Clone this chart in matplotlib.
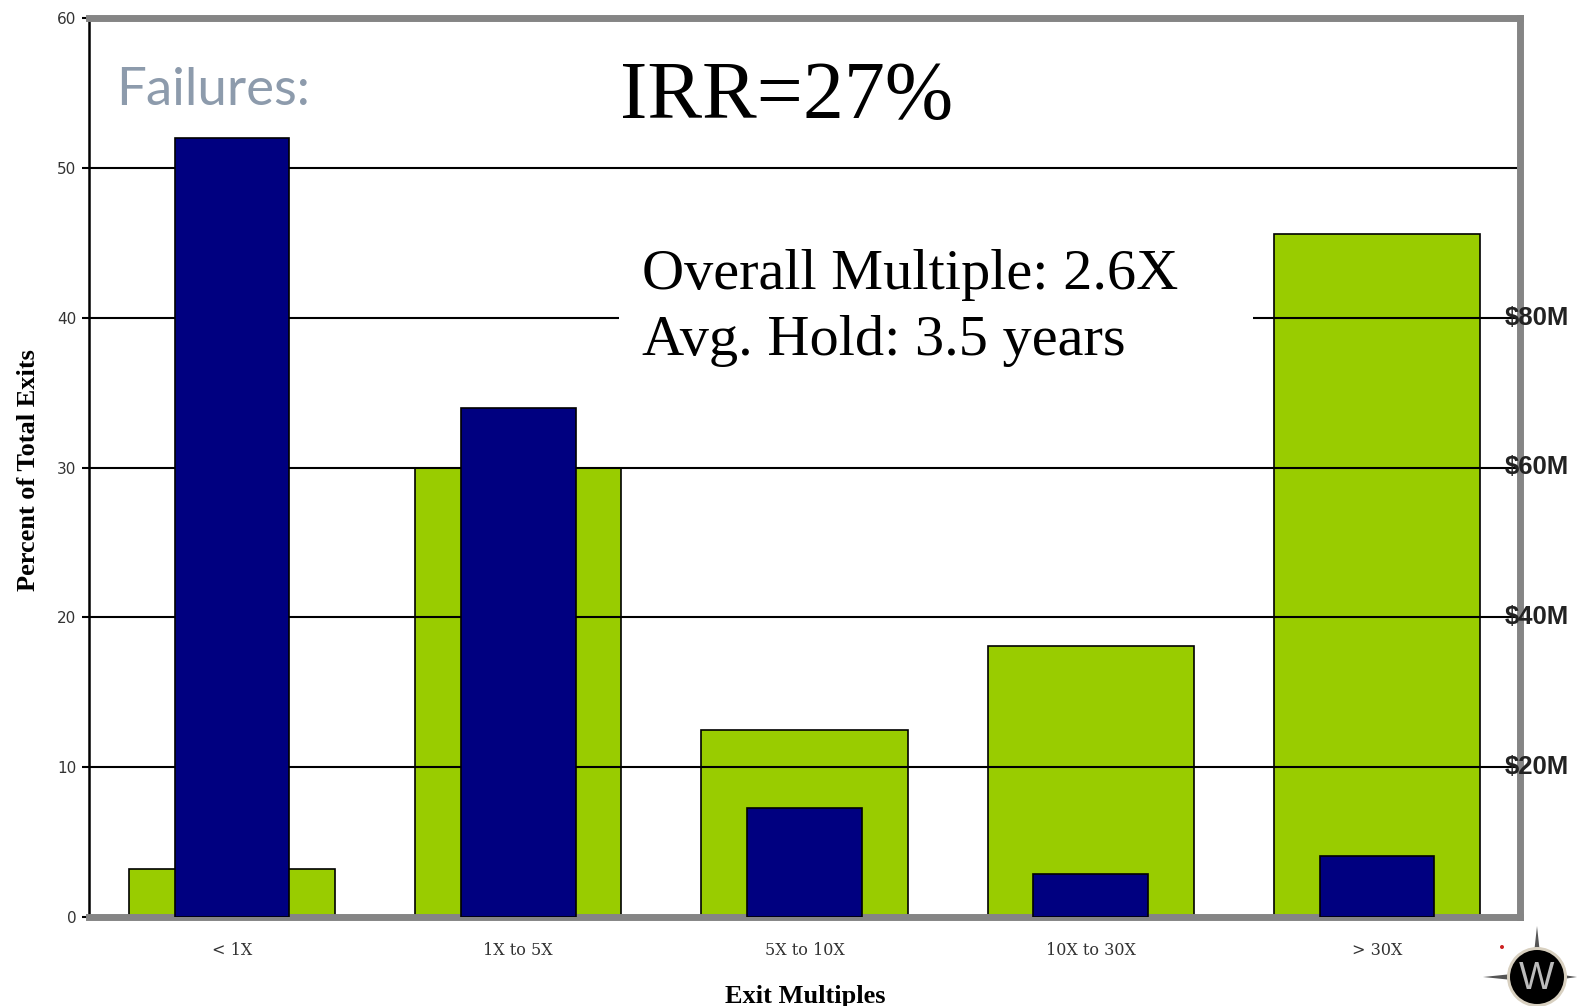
import matplotlib
matplotlib.use("Agg")
import matplotlib.pyplot as plt
from matplotlib.patches import Rectangle, Circle, Polygon

# data
categories = ["< 1X", "1X to 5X", "5X to 10X", "10X to 30X", "> 30X"]
dollars_pct = [3.2, 30.0, 12.5, 18.1, 45.6]     # green bars
exits_pct = [52.0, 34.0, 7.3, 2.9, 4.1]         # navy bars
right_labels = ["$20M", "$40M", "$60M", "$80M"]
right_label_levels = [10, 20, 30, 40]
grid_levels = [10, 20, 30, 40, 50]

green = "#99cc00"
navy = "#000080"
frame_gray = "#858585"

fig = plt.figure(figsize=(15.81, 10.06), dpi=100)
ax = fig.add_axes([89/1581, 89/1006, 1431/1581, 899/1006])

x = list(range(len(categories)))
ax.bar(x, dollars_pct, width=0.72, color=green, edgecolor="black", linewidth=1.2, zorder=1)
for g in grid_levels:
    ax.axhline(g, color="black", linewidth=1.5, zorder=2)
ax.bar(x, exits_pct, width=0.40, color=navy, edgecolor="black", linewidth=1.2, zorder=4)

ax.set_xlim(-0.5, 4.5)
ax.set_ylim(0, 60)
ax.set_yticks(range(0, 61, 10))
ax.set_xticks(x)
ax.set_xticklabels(categories, family="DejaVu Serif", fontsize=11.5, color="#333333")
ax.tick_params(axis="x", length=0, pad=18)
ax.tick_params(axis="y", length=5, width=1.5, color="black", labelsize=11, labelcolor="#333333", pad=4)

# frame: black left axis, thick gray top/right/bottom
ax.spines["left"].set_color("black")
ax.spines["left"].set_linewidth(1.8)
for s in ["top", "right", "bottom"]:
    ax.spines[s].set_color(frame_gray)
    ax.spines[s].set_linewidth(5)
    ax.spines[s].set_zorder(3)

ax.set_ylabel("Percent of Total Exits", family="Liberation Serif", fontweight="bold", fontsize=19)
ax.yaxis.set_label_coords(-0.034, 0.497)
ax.set_xlabel("Exit Multiples", family="Liberation Serif", fontweight="bold", fontsize=19)
ax.xaxis.label.set_va("center")
ax.xaxis.set_label_coords(0.5003, -0.088)

# right side dollar labels
for lv, lab in zip(right_label_levels, right_labels):
    ax.text(0.9895, lv, lab, transform=ax.get_yaxis_transform(), ha="left", va="center",
            fontsize=18.5, fontweight="bold", family="Liberation Sans", color="#222222",
            clip_on=False, zorder=6)

# annotations
ax.text(-0.406, 54.2, "Failures:", fontsize=38, family=["Lato", "DejaVu Sans"],
        color="#8d9bac", va="baseline", ha="left")
ax.text(1.355, 53.3, "IRR=27%", fontsize=59, family="Liberation Serif", va="baseline", ha="left")
ax.add_patch(Rectangle((1.352, 35.8), 2.215, 11.5, facecolor="white", edgecolor="none", zorder=3))
ax.text(1.432, 41.9, "Overall Multiple: 2.6X", fontsize=42, family="Liberation Serif",
        va="baseline", ha="left", zorder=5)
ax.text(1.432, 37.5, "Avg. Hold: 3.5 years", fontsize=42, family="Liberation Serif",
        va="baseline", ha="left", zorder=5)

# little compass logo in the corner
lax = fig.add_axes([1480/1581, 0, 101/1581, 86/1006])
lax.set_xlim(0, 101)
lax.set_ylim(0, 86)
lax.axis("off")
cx, cy = 57, 29
lax.add_patch(Polygon([(cx, 80), (cx + 5, cy + 5), (cx + 40, cy), (cx + 5, cy - 5),
                       (cx, -20), (cx - 5, cy - 5), (cx - 54, cy), (cx - 5, cy + 5)],
                      closed=True, facecolor="#555555", edgecolor="none"))
lax.add_patch(Circle((cx, cy), 30, facecolor="#d8d0c0", edgecolor="none"))
lax.add_patch(Circle((cx, cy), 27, facecolor="black", edgecolor="none"))
lax.add_patch(Circle((22, 59), 2, facecolor="#cc2222", edgecolor="none"))
lax.text(cx, cy - 2, "W", color="#bbbbbb", fontsize=27, ha="center", va="center", family="Liberation Sans")

fig.savefig("out.png", dpi=100)
